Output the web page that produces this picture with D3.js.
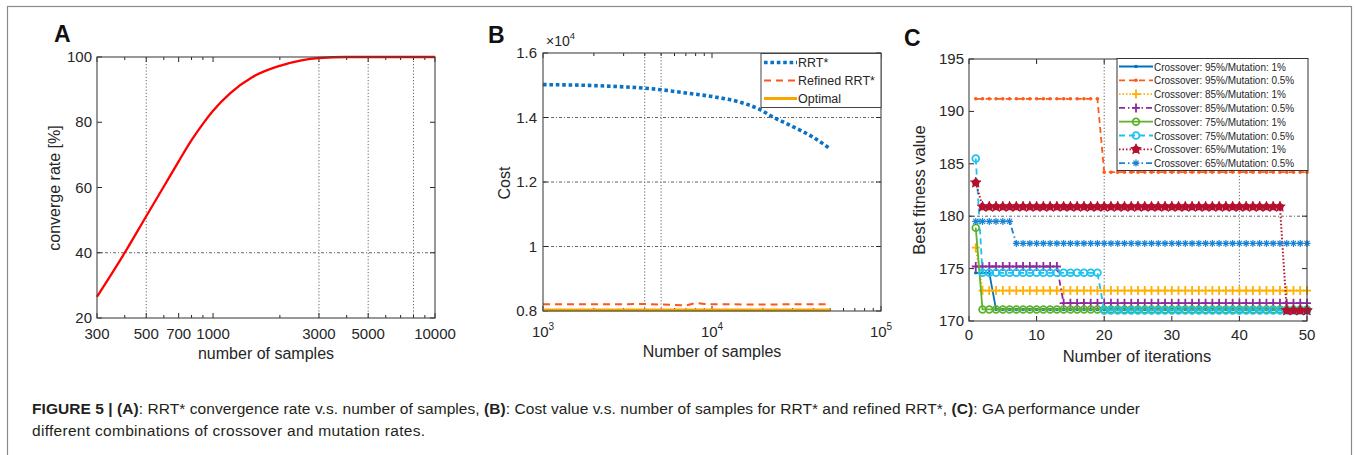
<!DOCTYPE html>
<html>
<head>
<meta charset="utf-8">
<script src="https://cdn.jsdelivr.net/npm/d3@7"></script>
<style>
  body { margin: 0; background: #fff; }
  svg { display: block; font-family: "Liberation Sans", Arial, sans-serif; }
</style>
</head>
<body>
<script>
const width = 1356,
  height = 455;

// ---- data: panel A (convergence rate vs samples)
const aSamples = [300, 400, 500, 600, 700, 800, 900, 1000, 1200, 1500, 2000, 2500, 3000, 4000, 5000, 7000, 10000];
const aRate = [26.5, 40, 51.2, 60.3, 68, 74.5, 79.5, 83.5, 89, 93.8, 97.3, 99, 99.7, 100, 100, 100, 100];
const aTicks = [300, 500, 700, 1000, 3000, 5000, 10000];
const aMinor = [400, 600, 800, 900, 2000, 4000, 6000, 7000, 8000, 9000];
const aYTicks = [20, 40, 60, 80, 100];
const aGridX = [500, 3000, 5000, 8000];
const aGridY = [40];

// ---- data: panel B (cost vs samples)
const bSamples = [1000, 2000, 3000, 4000, 5000, 7000, 10000, 14500, 19000, 23000, 30000, 39000, 50000];
const bRRT = [1.502, 1.499, 1.495, 1.491, 1.486, 1.476, 1.465, 1.448, 1.426, 1.401, 1.372, 1.341, 1.303];
const bRefSamples = [1000, 2000, 3000, 4000, 5000, 6000, 7000, 8000, 9000, 10000, 20000, 30000, 40000, 50000];
const bRefined = [0.821, 0.821, 0.821, 0.822, 0.82, 0.819, 0.817, 0.825, 0.822, 0.821, 0.82, 0.821, 0.821, 0.821];
const bOptimal = [0.803, 0.803];
const bOptSamples = [1000, 50000];
const bTicks = [1000, 10000, 100000];
const bExp = ["3", "4", "5"];
const bMinor = [2000, 3000, 4000, 5000, 6000, 7000, 8000, 9000, 20000, 30000, 40000, 50000, 60000, 70000, 80000, 90000];
const bYTicks = [0.8, 1, 1.2, 1.4, 1.6];
const bYLabels = ["0.8", "1", "1.2", "1.4", "1.6"];
const bGridX = [4000, 5000];
const bGridY = [1, 1.2, 1.4];
const bLegend = ["RRT*", "Refined RRT*", "Optimal"];

// ---- data: panel C (GA best fitness per iteration), runs of [value, count]
const cLegend = [
  "Crossover: 95%/Mutation: 1%",
  "Crossover: 95%/Mutation: 0.5%",
  "Crossover: 85%/Mutation: 1%",
  "Crossover: 85%/Mutation: 0.5%",
  "Crossover: 75%/Mutation: 1%",
  "Crossover: 75%/Mutation: 0.5%",
  "Crossover: 65%/Mutation: 1%",
  "Crossover: 65%/Mutation: 0.5%"
];
const c95_1 = [[174.6, 3], [171.1, 47]];
const c95_05 = [[191.2, 19], [184.2, 31]];
const c85_1 = [[177.0, 1], [172.9, 49]];
const c85_05 = [[175.2, 13], [171.7, 37]];
const c75_1 = [[178.9, 1], [171.1, 49]];
const c75_05 = [[185.5, 1], [174.6, 18], [171.0, 31]];
const c65_1 = [[183.2, 1], [180.9, 45], [171.0, 4]];
const c65_05 = [[179.5, 6], [177.4, 44]];
const cXTicks = [0, 10, 20, 30, 40, 50];
const cYTicks = [170, 175, 180, 185, 190, 195];
const cGridX = [20, 40];
const cGridY = [180];

const axisColor = "#262626";

const svg = d3
  .select("body")
  .append("svg")
  .attr("width", width)
  .attr("height", height);

// outer figure frame (open at the bottom)
svg
  .append("rect")
  .attr("x", 7.5)
  .attr("y", 6.5)
  .attr("width", 1344)
  .attr("height", 470)
  .attr("fill", "none")
  .attr("stroke", "#8a8a8a")
  .attr("stroke-width", 1.2);

// panel letters
[["A", 54, 42], ["B", 488, 43], ["C", 904, 46]].forEach(function (p) {
  svg
    .append("text")
    .attr("x", p[1])
    .attr("y", p[2])
    .attr("font-size", 23)
    .attr("font-weight", "bold")
    .attr("fill", "#111")
    .text(p[0]);
});

// draws grid and inward ticks for a panel
function frame(g, x, y, xt, yt, gx, gy) {
  const [x0, x1] = x.range();
  const [y0, y1] = y.range();
  g.selectAll(null)
    .data(gx)
    .join("line")
    .attr("x1", (d) => x(d))
    .attr("x2", (d) => x(d))
    .attr("y1", y0)
    .attr("y2", y1)
    .attr("stroke", "#555")
    .attr("stroke-width", 0.9)
    .attr("stroke-dasharray", "1.2,2");
  g.selectAll(null)
    .data(gy)
    .join("line")
    .attr("x1", x0)
    .attr("x2", x1)
    .attr("y1", (d) => y(d))
    .attr("y2", (d) => y(d))
    .attr("stroke", "#555")
    .attr("stroke-width", 0.9)
    .attr("stroke-dasharray", "3,2,1,2");
  xt.forEach(function (t) {
    const len = t.minor ? 3 : 5;
    g.append("line").attr("x1", x(t.v)).attr("x2", x(t.v)).attr("y1", y0).attr("y2", y0 - len).attr("stroke", axisColor);
    g.append("line").attr("x1", x(t.v)).attr("x2", x(t.v)).attr("y1", y1).attr("y2", y1 + len).attr("stroke", axisColor);
  });
  yt.forEach(function (v) {
    g.append("line").attr("x1", x0).attr("x2", x0 + 5).attr("y1", y(v)).attr("y2", y(v)).attr("stroke", axisColor);
    g.append("line").attr("x1", x1).attr("x2", x1 - 5).attr("y1", y(v)).attr("y2", y(v)).attr("stroke", axisColor);
  });
}

function boxOutline(g, x, y) {
  const [x0, x1] = x.range();
  const [y0, y1] = y.range();
  g.append("rect")
    .attr("x", x0)
    .attr("y", y1)
    .attr("width", x1 - x0)
    .attr("height", y0 - y1)
    .attr("fill", "none")
    .attr("stroke", "#444")
    .attr("stroke-width", 1.1);
}

// ================= Panel A =================
const aX = d3.scaleLog().domain([300, 10000]).range([97, 435]);
const aY = d3.scaleLinear().domain([20, 100]).range([318, 57]);
const gA = svg.append("g");

frame(
  gA,
  aX,
  aY,
  aTicks.map((v) => ({ v })).concat(aMinor.map((v) => ({ v, minor: true }))),
  aYTicks,
  aGridX,
  aGridY
);

gA.append("path")
  .datum(aSamples.map((s, i) => [s, aRate[i]]))
  .attr("fill", "none")
  .attr("stroke", "#ff0000")
  .attr("stroke-width", 2.3)
  .attr("d", d3.line().x((d) => aX(d[0])).y((d) => aY(d[1])).curve(d3.curveMonotoneX));

boxOutline(gA, aX, aY);

gA.selectAll(null)
  .data(aTicks)
  .join("text")
  .attr("x", (d) => aX(d))
  .attr("y", 339)
  .attr("text-anchor", "middle")
  .attr("font-size", 15)
  .attr("fill", axisColor)
  .text((d) => d);

gA.selectAll(null)
  .data(aYTicks)
  .join("text")
  .attr("x", 92)
  .attr("y", (d) => aY(d) + 5)
  .attr("text-anchor", "end")
  .attr("font-size", 15)
  .attr("fill", axisColor)
  .text((d) => d);

gA.append("text")
  .attr("x", 266)
  .attr("y", 359)
  .attr("text-anchor", "middle")
  .attr("font-size", 16)
  .attr("fill", axisColor)
  .text("number of samples");

gA.append("text")
  .attr("transform", "translate(60,188) rotate(-90)")
  .attr("text-anchor", "middle")
  .attr("font-size", 16)
  .attr("fill", axisColor)
  .text("converge rate [%]");

// ================= Panel B =================
const bX = d3.scaleLog().domain([1000, 100000]).range([543, 881]);
const bY = d3.scaleLinear().domain([0.8, 1.6]).range([311, 53]);
const gB = svg.append("g");

frame(
  gB,
  bX,
  bY,
  bTicks.map((v) => ({ v })).concat(bMinor.map((v) => ({ v, minor: true }))),
  bYTicks,
  bGridX,
  bGridY
);

const bLine = d3.line().x((d) => bX(d[0])).y((d) => bY(d[1]));

gB.append("path")
  .datum(bOptSamples.map((s, i) => [s, bOptimal[i]]))
  .attr("fill", "none")
  .attr("stroke", "#f7a600")
  .attr("stroke-width", 3)
  .attr("d", bLine);

gB.append("path")
  .datum(bRefSamples.map((s, i) => [s, bRefined[i]]))
  .attr("fill", "none")
  .attr("stroke", "#ff5522")
  .attr("stroke-width", 2)
  .attr("stroke-dasharray", "7,5")
  .attr("d", bLine);

gB.append("path")
  .datum(bSamples.map((s, i) => [s, bRRT[i]]))
  .attr("fill", "none")
  .attr("stroke", "#0a72c4")
  .attr("stroke-width", 3.6)
  .attr("stroke-dasharray", "3.6,2.8")
  .attr("d", bLine.curve(d3.curveMonotoneX));

boxOutline(gB, bX, bY);

gB.selectAll(null)
  .data(bYTicks)
  .join("text")
  .attr("x", 537)
  .attr("y", (d) => bY(d) + 5)
  .attr("text-anchor", "end")
  .attr("font-size", 15)
  .attr("fill", axisColor)
  .text((d, i) => bYLabels[i]);

const bXLab = gB
  .selectAll(null)
  .data(bTicks)
  .join("text")
  .attr("x", (d) => bX(d))
  .attr("y", 337)
  .attr("text-anchor", "middle")
  .attr("font-size", 15)
  .attr("fill", axisColor);
bXLab.append("tspan").text("10");
bXLab.append("tspan").attr("dy", -7).attr("font-size", 10).text((d, i) => bExp[i]);

const bExpLabel = gB.append("text").attr("x", 546).attr("y", 46).attr("font-size", 14).attr("fill", axisColor);
bExpLabel.append("tspan").text("\u00d710");
bExpLabel.append("tspan").attr("dy", -7).attr("font-size", 9.5).text("4");

gB.append("text")
  .attr("x", 712)
  .attr("y", 357)
  .attr("text-anchor", "middle")
  .attr("font-size", 16)
  .attr("fill", axisColor)
  .text("Number of samples");

gB.append("text")
  .attr("transform", "translate(510,183) rotate(-90)")
  .attr("text-anchor", "middle")
  .attr("font-size", 16)
  .attr("fill", axisColor)
  .text("Cost");

// legend B
const legB = gB.append("g").attr("transform", "translate(761,53.5)");
legB.append("rect").attr("width", 120).attr("height", 54).attr("fill", "#fff").attr("stroke", "#444");
const legBStyles = [
  { c: "#0a72c4", w: 3.6, dash: "3.6,2.8" },
  { c: "#ff5522", w: 2, dash: "7,5" },
  { c: "#f7a600", w: 3, dash: null }
];
bLegend.forEach(function (name, i) {
  const yy = 9 + i * 18;
  legB.append("line")
    .attr("x1", 3)
    .attr("x2", 36)
    .attr("y1", yy)
    .attr("y2", yy)
    .attr("stroke", legBStyles[i].c)
    .attr("stroke-width", legBStyles[i].w)
    .attr("stroke-dasharray", legBStyles[i].dash);
  legB.append("text")
    .attr("x", 37)
    .attr("y", yy + 4.5)
    .attr("font-size", 12.5)
    .attr("fill", axisColor)
    .text(name);
});

// ================= Panel C =================
const cX = d3.scaleLinear().domain([0, 50]).range([969, 1307]);
const cY = d3.scaleLinear().domain([170, 195]).range([321, 59]);
const gC = svg.append("g");

frame(gC, cX, cY, cXTicks.map((v) => ({ v })), cYTicks, cGridX, cGridY);

function expand(runs) {
  const out = [];
  runs.forEach(function (r) {
    for (let k = 0; k < r[1]; k++) out.push(r[0]);
  });
  return out.map((v, i) => [i + 1, v]);
}

const cSeries = [
  { data: c95_1, color: "#0072bd", dash: null, marker: "dot" },
  { data: c95_05, color: "#ff5a1a", dash: "6,4", marker: "dot" },
  { data: c85_1, color: "#ffb000", dash: "1.5,2", marker: "plus" },
  { data: c85_05, color: "#8b2a9e", dash: "6,3,1.5,3", marker: "plus" },
  { data: c75_1, color: "#5cb22a", dash: null, marker: "circle" },
  { data: c75_05, color: "#1cc2f0", dash: "6,4", marker: "circle" },
  { data: c65_1, color: "#b5102f", dash: "1.5,2", marker: "hex" },
  { data: c65_05, color: "#1a84d4", dash: "6,3,1.5,3", marker: "star" }
];

function drawMarker(g, kind, color, px, py) {
  if (kind === "dot") {
    g.append("circle").attr("cx", px).attr("cy", py).attr("r", 1.8).attr("fill", color);
  } else if (kind === "plus") {
    g.append("path")
      .attr("d", `M${px - 4},${py}H${px + 4}M${px},${py - 4.5}V${py + 4.5}`)
      .attr("stroke", color)
      .attr("stroke-width", 1.8);
  } else if (kind === "circle") {
    g.append("circle")
      .attr("cx", px)
      .attr("cy", py)
      .attr("r", 3.4)
      .attr("fill", "none")
      .attr("stroke", color)
      .attr("stroke-width", 1.8);
  } else if (kind === "hex") {
    g.append("circle")
      .attr("cx", px)
      .attr("cy", py)
      .attr("r", 3.6)
      .attr("fill", color);
    g.append("path")
      .attr("d", d3.symbol(d3.symbolStar, 34)())
      .attr("transform", `translate(${px},${py})`)
      .attr("fill", color)
      .attr("stroke", color)
      .attr("stroke-width", 1)
      .attr("stroke-linejoin", "round");
  } else if (kind === "star") {
    g.append("path")
      .attr("d", `M${px - 3.5},${py}H${px + 3.5}M${px},${py - 3.5}V${py + 3.5}M${px - 2.5},${py - 2.5}L${px + 2.5},${py + 2.5}M${px - 2.5},${py + 2.5}L${px + 2.5},${py - 2.5}`)
      .attr("stroke", color)
      .attr("stroke-width", 1.2);
  }
}

const cLine = d3.line().x((d) => cX(d[0])).y((d) => cY(d[1]));

cSeries.forEach(function (s) {
  const pts = expand(s.data);
  const g = gC.append("g");
  g.append("path")
    .datum(pts)
    .attr("fill", "none")
    .attr("stroke", s.color)
    .attr("stroke-width", s.dash === "1.5,2" ? 2 : 1.8)
    .attr("stroke-dasharray", s.dash)
    .attr("d", cLine);
  pts.forEach((p) => drawMarker(g, s.marker, s.color, cX(p[0]), cY(p[1])));
});

boxOutline(gC, cX, cY);

gC.selectAll(null)
  .data(cXTicks)
  .join("text")
  .attr("x", (d) => cX(d))
  .attr("y", 340)
  .attr("text-anchor", "middle")
  .attr("font-size", 15)
  .attr("fill", axisColor)
  .text((d) => d);

gC.selectAll(null)
  .data(cYTicks)
  .join("text")
  .attr("x", 964)
  .attr("y", (d) => cY(d) + 5)
  .attr("text-anchor", "end")
  .attr("font-size", 15)
  .attr("fill", axisColor)
  .text((d) => d);

gC.append("text")
  .attr("x", 1137)
  .attr("y", 362)
  .attr("text-anchor", "middle")
  .attr("font-size", 16.5)
  .attr("fill", axisColor)
  .text("Number of iterations");

gC.append("text")
  .attr("transform", "translate(925,190) rotate(-90)")
  .attr("text-anchor", "middle")
  .attr("font-size", 16.5)
  .attr("fill", axisColor)
  .text("Best fitness value");

// legend C (bottom edge just above the 184 line so it stays visible)
const legC = gC.append("g").attr("transform", "translate(1117,58.5)");
legC.append("rect").attr("width", 191).attr("height", 112).attr("fill", "#fff").attr("stroke", "#333");
cLegend.forEach(function (name, i) {
  const s = cSeries[i];
  const yy = 8 + i * 13.8;
  legC.append("line")
    .attr("x1", 2)
    .attr("x2", 36)
    .attr("y1", yy)
    .attr("y2", yy)
    .attr("stroke", s.color)
    .attr("stroke-width", 1.8)
    .attr("stroke-dasharray", s.dash);
  drawMarker(legC, s.marker, s.color, 19, yy);
  const t = legC
    .append("text")
    .attr("x", 37)
    .attr("y", yy + 4)
    .attr("font-size", 11.6)
    .attr("fill", axisColor)
    .text(name);
  // squeeze to the narrower width the original font takes
  t.attr("textLength", t.node().getComputedTextLength() * 0.86).attr("lengthAdjust", "spacingAndGlyphs");
});

// ================= caption =================
const caption = [
  [
    ["FIGURE 5 | ", true], ["(A)", true], [": RRT* convergence rate v.s. number of samples, ", false],
    ["(B)", true], [": Cost value v.s. number of samples for RRT* and refined RRT*, ", false],
    ["(C)", true], [": GA performance under", false]
  ],
  [["different combinations of crossover and mutation rates.", false]]
];
const captionWidth = [1108, 393];
caption.forEach(function (line, i) {
  const t = svg
    .append("text")
    .attr("x", 32)
    .attr("y", 414 + i * 22)
    .attr("font-size", 15.5)
    .attr("fill", "#231f20");
  line.forEach(function (part) {
    t.append("tspan").attr("font-weight", part[1] ? "bold" : "normal").text(part[0]);
  });
  t.attr("textLength", captionWidth[i]).attr("lengthAdjust", "spacing");
});
</script>
</body>
</html>
